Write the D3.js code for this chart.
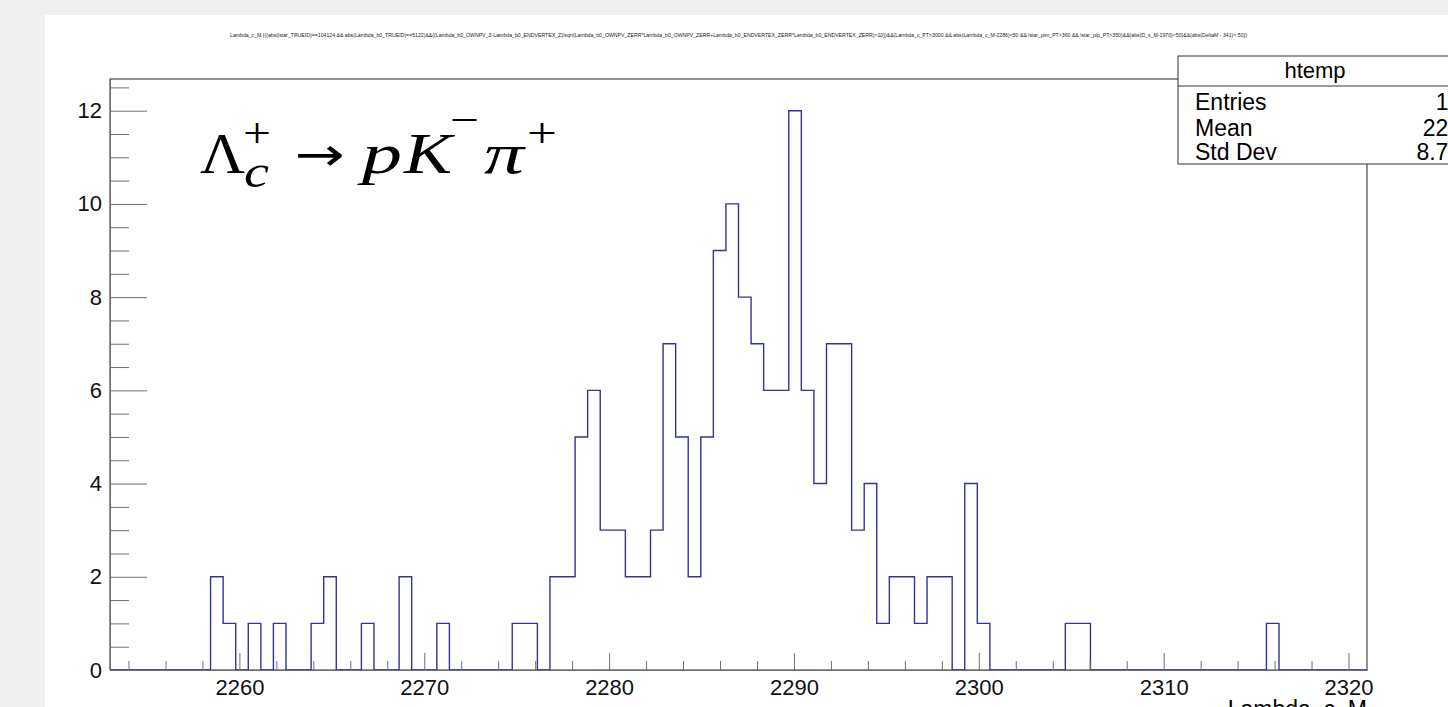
<!DOCTYPE html>
<html lang="en">
<head>
  <meta charset="UTF-8" />
  <title>htemp - Lambda_c_M</title>
  <script src="https://cdn.jsdelivr.net/npm/d3@7"></script>
  <style>
    body { margin: 0; background: #f0f0f0; overflow: hidden; }
    svg { display: block; font-family: "Liberation Sans", Arial, sans-serif; }
    .axis path, .axis line { stroke: #707070; }
    .axis text { font-size: 22px; fill: #111; font-family: "Liberation Sans", Arial, sans-serif; }
    .formula text { font-family: "Liberation Serif", "DejaVu Serif", serif; fill: #000; }
  </style>
</head>
<body>
<svg width="1448" height="707"></svg>
<script>
  // histogram htemp: 100 bins between xMin and xMax
  const xMin = 2253;
  const xMax = 2321;
  const counts = [
    0, 0, 0, 0, 0, 0, 0, 0, 2, 1,
    0, 1, 0, 1, 0, 0, 1, 2, 0, 0,
    1, 0, 0, 2, 0, 0, 1, 0, 0, 0,
    0, 0, 1, 1, 0, 2, 2, 5, 6, 3,
    3, 2, 2, 3, 7, 5, 2, 5, 9, 10,
    8, 7, 6, 6, 12, 6, 4, 7, 7, 3,
    4, 1, 2, 2, 1, 2, 2, 0, 4, 1,
    0, 0, 0, 0, 0, 0, 1, 1, 0, 0,
    0, 0, 0, 0, 0, 0, 0, 0, 0, 0,
    0, 0, 1, 0, 0, 0, 0, 0, 0, 0
  ];
  const xMajorTicks = [2260, 2270, 2280, 2290, 2300, 2310, 2320];
  const yMajorTicks = [0, 2, 4, 6, 8, 10, 12];
  const yTop = 12.68;

  const cutTitle = "Lambda_c_M {((abs(lstar_TRUEID)==104124 && abs(Lambda_b0_TRUEID)==5122)&&((Lambda_b0_OWNPV_Z-Lambda_b0_ENDVERTEX_Z)/sqrt(Lambda_b0_OWNPV_ZERR*Lambda_b0_OWNPV_ZERR+Lambda_b0_ENDVERTEX_ZERR*Lambda_b0_ENDVERTEX_ZERR)>10))&&(Lambda_c_PT>3000 && abs(Lambda_c_M-2286)<50 && lstar_pim_PT>360 && lstar_pip_PT>350)&&(abs(D_s_M-1970)<50)&&(abs(DeltaM - 341)< 50)}";

  const svg = d3.select('svg');

  // white pad
  svg.append("rect")
    .attr("x", 45).attr("y", 15)
    .attr("width", 1448 - 45).attr("height", 707 - 15)
    .attr("fill", "#fff");

  const mLeft = 110, mRight = 1367, mTop = 79, mBottom = 670;

  const x = d3.scaleLinear().domain([xMin, xMax]).range([mLeft, mRight]);
  const y = d3.scaleLinear().domain([0, yTop]).range([mBottom, mTop]);
  const binW = (xMax - xMin) / counts.length;

  // frame
  svg.append("rect")
    .attr("x", mLeft).attr("y", mTop)
    .attr("width", mRight - mLeft).attr("height", mBottom - mTop)
    .attr("fill", "#fff")
    .attr("stroke", "#222")
    .attr("stroke-width", 1);

  // histogram outline
  const pts = [[x(xMin), y(0)]];
  counts.forEach((c, i) => {
    pts.push([x(xMin + i * binW), y(c)]);
    pts.push([x(xMin + (i + 1) * binW), y(c)]);
  });
  pts.push([x(xMax), y(0)]);

  svg.append("path")
    .attr("d", d3.line()(pts))
    .attr("fill", "none")
    .attr("stroke", "#333399")
    .attr("stroke-width", 1.4);

  // x axis: minor every 2, major every 10
  svg.append("g")
    .attr("class", "axis")
    .attr("transform", `translate(0,${mBottom})`)
    .call(d3.axisBottom(x)
      .tickValues(d3.range(2254, 2321, 2).filter(v => v % 10 !== 0))
      .tickSizeInner(-9).tickSizeOuter(0).tickFormat(""));

  svg.append("g")
    .attr("class", "axis")
    .attr("transform", `translate(0,${mBottom})`)
    .call(d3.axisBottom(x)
      .tickValues(xMajorTicks)
      .tickSizeInner(-17).tickSizeOuter(0).tickPadding(9)
      .tickFormat(d3.format("d")));

  // y axis: minor every 0.5, major every 2
  svg.append("g")
    .attr("class", "axis")
    .attr("transform", `translate(${mLeft},0)`)
    .call(d3.axisLeft(y)
      .tickValues(d3.range(0.5, yTop, 0.5).filter(v => v % 2 !== 0))
      .tickSizeInner(-19).tickSizeOuter(0).tickFormat(""));

  svg.append("g")
    .attr("class", "axis")
    .attr("transform", `translate(${mLeft},0)`)
    .call(d3.axisLeft(y)
      .tickValues(yMajorTicks)
      .tickSizeInner(-37).tickSizeOuter(0).tickPadding(8)
      .tickFormat(d3.format("d")));

  // axis title (cut off by window)
  svg.append("text")
    .attr("x", mRight).attr("y", 717)
    .attr("text-anchor", "end")
    .attr("font-size", 23)
    .text("Lambda_c_M");

  // tiny cut string title
  svg.append("text")
    .attr("x", 230).attr("y", 37)
    .attr("font-size", 5.5)
    .attr("fill", "#222")
    .attr("textLength", 1017)
    .attr("lengthAdjust", "spacingAndGlyphs")
    .text(cutTitle);

  // decay label, glyph by glyph
  const pieces = [
    { t: "Λ", x: 200, y: 173, s: 58, w: 45 },
    { t: "+", x: 243, y: 147, s: 42, w: 28 },
    { t: "c", x: 244, y: 187, s: 46, w: 25, it: true },
    { t: "→", x: 295, y: 170, s: 46, w: 50, fam: "DejaVu Sans" },
    { t: "p", x: 362, y: 173, s: 58, w: 40, it: true },
    { t: "K", x: 404, y: 173, s: 58, w: 48, it: true },
    { t: "−", x: 450, y: 134, s: 42, w: 29 },
    { t: "π", x: 484, y: 173, s: 58, w: 40, it: true },
    { t: "+", x: 527, y: 147, s: 42, w: 30 }
  ];
  svg.append("g").attr("class", "formula")
    .selectAll("text").data(pieces).join("text")
    .attr("x", d => d.x).attr("y", d => d.y)
    .attr("font-size", d => d.s)
    .attr("font-style", d => d.it ? "italic" : null)
    .style("font-family", d => d.fam || null)
    .attr("textLength", d => d.w)
    .attr("lengthAdjust", "spacingAndGlyphs")
    .text(d => d.t);

  // stats box
  const centers = counts.map((c, i) => xMin + (i + 0.5) * binW);
  const nEntries = d3.sum(counts);
  const mean = d3.sum(counts, (c, i) => c * centers[i]) / nEntries;
  const std = Math.sqrt(d3.sum(counts, (c, i) => c * (centers[i] - mean) ** 2) / nEntries);

  const sb = svg.append("g");
  sb.append("rect")
    .attr("x", 1178).attr("y", 56)
    .attr("width", 320).attr("height", 108)
    .attr("fill", "#fff").attr("stroke", "#333").attr("stroke-width", 1);
  sb.append("line")
    .attr("x1", 1178).attr("x2", 1500).attr("y1", 86).attr("y2", 86)
    .attr("stroke", "#333");
  sb.append("text")
    .attr("x", 1315).attr("y", 78)
    .attr("text-anchor", "middle").attr("font-size", 22)
    .text("htemp");
  const rows = [
    ["Entries", d3.format("d")(nEntries)],
    ["Mean", d3.format(".4")(mean)],
    ["Std Dev", d3.format(".4")(std)]
  ];
  const rowY = [110, 136, 160];
  rows.forEach((r, i) => {
    sb.append("text").attr("x", 1195).attr("y", rowY[i]).attr("font-size", 23).text(r[0]);
    sb.append("text").attr("x", 1474).attr("y", rowY[i]).attr("font-size", 23)
      .attr("text-anchor", "end").text(r[1]);
  });
</script>
</body>
</html>
